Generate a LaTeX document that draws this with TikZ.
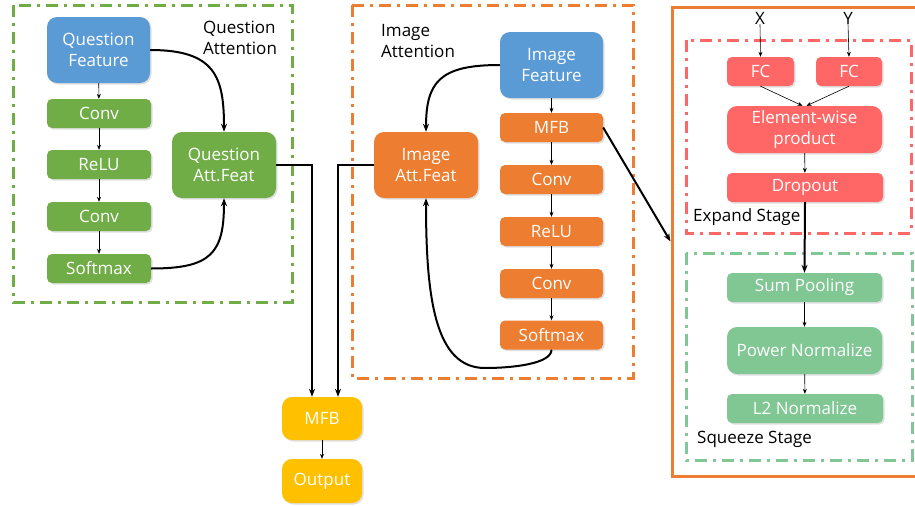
\documentclass[tikz,border=0pt]{standalone}
\usepackage{fontspec}
\setmainfont{Open Sans}
\usetikzlibrary{arrows.meta,shadows}
\definecolor{qblue}{HTML}{5B9BD5}
\definecolor{qgreen}{HTML}{70AD47}
\definecolor{iorange}{HTML}{ED7D31}
\definecolor{myellow}{HTML}{FFC000}
\definecolor{ered}{HTML}{FF6666}
\definecolor{sgreen}{HTML}{80C794}
\tikzset{
  box/.style={rounded corners=5pt, text=white, align=center, inner sep=0pt,
    font=\fontsize{17}{21}\selectfont,
    drop shadow={opacity=0.25, shadow xshift=1.5pt, shadow yshift=-1.5pt}},
  bigbox/.style={box, rounded corners=10pt},
  lbl/.style={font=\fontsize{17}{21}\selectfont, align=left, inner sep=0pt},
  dashbox/.style={line width=3pt, dash pattern=on 12pt off 6pt on 3pt off 6pt},
  thin arrow/.style={line width=0.6pt, -{Stealth[length=5pt,width=4pt]}},
  thick arrow/.style={line width=2pt, -{Stealth[length=8pt,width=6pt]}},
}
\begin{document}
\begin{tikzpicture}[x=1pt,y=-1pt]
\useasboundingbox (0,0) rectangle (915,506);
% containers
\draw[dashbox, draw=qgreen] (13,5) rectangle (292,302);
\draw[dashbox, draw=iorange] (352,5) rectangle (633,378);
\node[draw=iorange, line width=3pt, minimum width=253pt, minimum height=469pt, inner sep=0pt] (outer) at (798.5,241.5) {};
\draw[dashbox, draw=ered] (686,40) rectangle (911,233);
\draw[dashbox, draw=sgreen] (686,253) rectangle (912,460);
% labels
\node[lbl, anchor=north west] (qatt) at (203,21) {Question\\Attention};
\node[lbl, anchor=north west] (iatt) at (381,24) {Image\\Attention};
\node[lbl, anchor=north west] (exp) at (693,208) {Expand Stage};
\node[lbl, anchor=north west] (sqz) at (697,431) {Squeeze Stage};
\node[lbl] (X) at (760,18) {X};
\node[lbl] (Y) at (848,18) {Y};
% question column
\node[bigbox, fill=qblue, minimum width=103pt, minimum height=66pt] (qf) at (98.5,50) {Question\\Feature};
\node[box, fill=qgreen, minimum width=104pt, minimum height=29pt] (qc1) at (99,113.5) {Conv};
\node[box, fill=qgreen, minimum width=104pt, minimum height=29pt] (qr) at (99,164.5) {ReLU};
\node[box, fill=qgreen, minimum width=104pt, minimum height=29pt] (qc2) at (99,216.5) {Conv};
\node[box, fill=qgreen, minimum width=104pt, minimum height=29pt] (qs) at (99,268.5) {Softmax};
\node[bigbox, fill=qgreen, minimum width=104pt, minimum height=66pt] (qaf) at (224,165) {Question\\Att.Feat};
% image column
\node[bigbox, fill=qblue, minimum width=103pt, minimum height=66pt] (if) at (551.5,65) {Image\\Feature};
\node[box, fill=iorange, minimum width=103pt, minimum height=29pt] (im) at (551.5,127.5) {MFB};
\node[box, fill=iorange, minimum width=103pt, minimum height=29pt] (ic1) at (551.5,179.5) {Conv};
\node[box, fill=iorange, minimum width=103pt, minimum height=29pt] (ir) at (551.5,231.5) {ReLU};
\node[box, fill=iorange, minimum width=103pt, minimum height=29pt] (ic2) at (551.5,283.5) {Conv};
\node[box, fill=iorange, minimum width=103pt, minimum height=29pt] (is) at (551.5,335) {Softmax};
\node[bigbox, fill=iorange, minimum width=104pt, minimum height=66pt] (iaf) at (426,165) {Image\\Att.Feat};
% bottom
\node[bigbox, fill=myellow, minimum width=80pt, minimum height=43pt] (mfb) at (322,418.5) {MFB};
\node[bigbox, fill=myellow, minimum width=80pt, minimum height=44pt] (out) at (322,481) {Output};
% expand
\node[box, fill=ered, minimum width=67pt, minimum height=29pt] (fc1) at (760.5,71.5) {FC};
\node[box, fill=ered, minimum width=66pt, minimum height=29pt] (fc2) at (849,71.5) {FC};
\node[bigbox, fill=ered, minimum width=155pt, minimum height=47pt] (prod) at (804.5,129.5) {Element-wise\\product};
\node[box, fill=ered, minimum width=156pt, minimum height=29pt] (drop) at (805,187.5) {Dropout};
% squeeze
\node[box, fill=sgreen, minimum width=155pt, minimum height=29pt] (sp) at (804.5,287.5) {Sum Pooling};
\node[bigbox, fill=sgreen, minimum width=155pt, minimum height=47pt] (pn) at (804.5,350.5) {Power Normalize};
\node[box, fill=sgreen, minimum width=156pt, minimum height=29pt] (l2) at (805,408.5) {L2 Normalize};
% thin arrows
\draw[thin arrow] (qf) -- (qc1);
\draw[thin arrow] (qc1) -- (qr);
\draw[thin arrow] (qr) -- (qc2);
\draw[thin arrow] (qc2) -- (qs);
\draw[thin arrow] (if) -- (im);
\draw[thin arrow] (im) -- (ic1);
\draw[thin arrow] (ic1) -- (ir);
\draw[thin arrow] (ir) -- (ic2);
\draw[thin arrow] (ic2) -- (is);
\draw[thin arrow] (mfb) -- (out);
\draw[thin arrow] (X.south) -- (fc1.north);
\draw[thin arrow] (Y.south) -- (fc2.north);
\draw[thin arrow] (fc1.south) -- ([xshift=-2pt]prod.north);
\draw[thin arrow] (fc2.south) -- ([xshift=2pt]prod.north);
\draw[thin arrow] (prod) -- (drop);
\draw[thin arrow] (sp) -- (pn);
\draw[thin arrow] (pn) -- (l2);
% thick arrows
\draw[thick arrow] (qf.east) .. controls +(65,0) and +(0,-55) .. (qaf.north);
\draw[thick arrow] (qs.east) .. controls +(60,0) and +(0,55) .. (qaf.south);
\draw[thick arrow] (if.west) .. controls +(-60,0) and +(0,-50) .. (iaf.north);
\coordinate (lp) at (485,368);
\draw[thick arrow] (is.south) .. controls +(0,14) and +(28,0) .. (lp) .. controls +(-50,0) and +(0,100) .. (iaf.south);
\draw[thick arrow] (qaf.east) -| ([xshift=-10pt]mfb.north);
\draw[thick arrow] (iaf.west) -| ([xshift=16pt]mfb.north);
\draw[thick arrow] (im.east) -- (outer.west);
\draw[thick arrow] (drop.south) -- (sp.north);
\end{tikzpicture}
\end{document}
